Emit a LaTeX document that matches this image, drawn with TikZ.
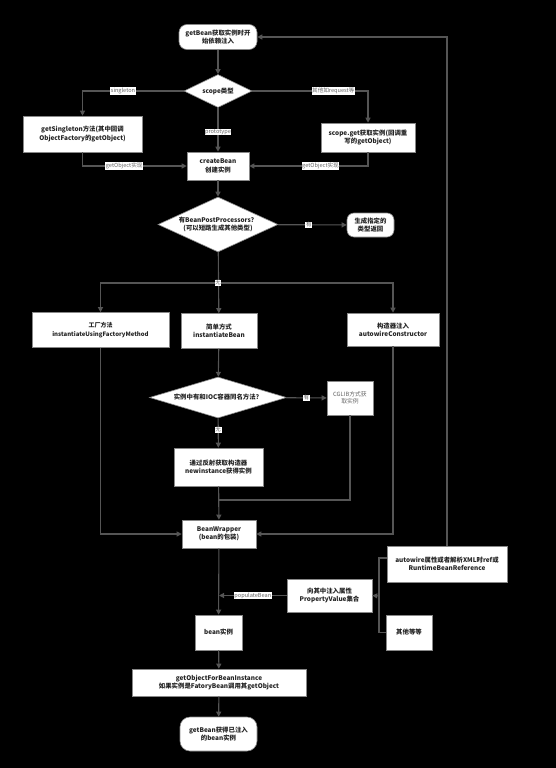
\documentclass[tikz,border=0pt]{standalone}
\usepackage{fontspec}
\setmainfont{Noto Sans CJK SC}
\usetikzlibrary{shapes.geometric,arrows.meta,calc}
\definecolor{ln}{HTML}{555555}
\definecolor{bd}{HTML}{888888}
\definecolor{tx}{HTML}{222222}
\definecolor{lt}{HTML}{666666}
\tikzset{
  box/.style={draw=bd, line width=0.6pt, fill=white, rectangle, align=center, inner sep=1pt,
    text=tx, font=\fontsize{6.4}{8.2}\selectfont\bfseries},
  rbox/.style={box, rounded corners=8pt},
  dia/.style={box, diamond, inner sep=0pt},
  line/.style={draw=ln, line width=1.1pt},
  arrow/.style={line, -{Triangle[length=5pt,width=5pt]}},
  lab/.style={fill=white, text=lt, inner sep=0.6pt, font=\fontsize{5.6}{6.5}\selectfont}
}
\begin{document}
\begin{tikzpicture}[x=1pt,y=-1pt]
\fill[black] (0,0) rectangle (556,768);
\useasboundingbox (0,0) rectangle (556,768);

\node[rbox, minimum width=78pt, minimum height=25pt] (start) at (218,37) {getBean获取实例时开\\始依赖注入};
\node[dia, aspect=2.06, minimum width=68pt, minimum height=33pt] (scope) at (218,91) {scope类型};
\node[box, minimum width=119pt, minimum height=36pt] (single) at (82.5,134) {getSingleton方法(其中回调\\ObjectFactory的getObject)};
\node[box, minimum width=94pt, minimum height=29pt] (sget) at (368,137.5) {scope.get获取实例(回调重\\写的getObject)};
\node[box, minimum width=62pt, minimum height=28pt] (create) at (218,166) {createBean\\创建实例};
\node[dia, aspect=2.2, minimum width=120pt, minimum height=55pt] (bpp) at (218,224.5) {有BeanPostProcessors？\\(可以短路生成其他类型)};
\node[rbox, minimum width=47pt, minimum height=24pt, rounded corners=7pt] (gen) at (370.5,225) {生成指定的\\类型返回};
\node[box, minimum width=137pt, minimum height=35pt, font=\fontsize{6}{8.2}\selectfont\bfseries] (fm) at (100.5,330) {工厂方法\\instantiateUsingFactoryMethod};
\node[box, minimum width=76pt, minimum height=35pt] (simple) at (219,331) {简单方式\\instantiateBean};
\node[box, minimum width=92pt, minimum height=33pt] (ctor) at (393,329.5) {构造器注入\\autowireConstructor};
\node[dia, aspect=3.34, minimum width=137pt, minimum height=41pt] (ioc) at (218,397.5) {实例中有和IOC容器同名方法？};
\node[box, minimum width=46pt, minimum height=34pt, font=\fontsize{5.8}{7.5}\selectfont, text=lt] (cglib) at (350,398) {CGLIB方式获\\取实例};
\node[box, minimum width=89pt, minimum height=38pt] (refl) at (218.5,467) {通过反射获取构造器\\newinstance获得实例};
\node[box, minimum width=74pt, minimum height=28pt] (bw) at (219,534) {BeanWrapper\\(bean的包装)};
\node[box, minimum width=120pt, minimum height=36pt] (auto) at (447,564) {autowire属性或者解析XML时ref或\\RuntimeBeanReference};
\node[box, minimum width=85pt, minimum height=33pt] (prop) at (329.5,595.5) {向其中注入属性\\PropertyValue集合};
\node[box, minimum width=46pt, minimum height=35pt] (other) at (409,632.5) {其他等等};
\node[box, minimum width=47pt, minimum height=35pt] (bean) at (218.5,632.5) {bean实例};
\node[box, minimum width=174pt, minimum height=27pt] (gobi) at (219,682.5) {getObjectForBeanInstance\\如果实例是FatoryBean调用其getObject};
\node[rbox, minimum width=77pt, minimum height=34pt, rounded corners=10pt] (end) at (218.5,734) {getBean获得已注入\\的bean实例};

\coordinate (j) at (218,283);
\coordinate (jc) at (218,500);
\coordinate (bt) at (379,558);
\coordinate (bm) at (379,596);
\coordinate (bb) at (379,632.5);
\coordinate (at) at (387,558);

\draw[arrow] (start) -- (scope);
\draw[arrow] (scope.west) -| node[lab, pos=0.3] {singleton} (single.north);
\draw[arrow] (scope.east) -| node[lab, pos=0.35] {其他如request等} (sget.north);
\draw[arrow] (scope) -- node[lab, pos=0.55] {prototype} (create);
\draw[arrow] (single.south) |- node[lab, pos=0.7] {getObject实现} (create.west);
\draw[arrow] (sget.south) |- node[lab, pos=0.7] {getObject实现} (create.east);
\draw[arrow] (create) -- (bpp);
\draw[arrow] (bpp) -- node[lab, pos=0.45] {有} (gen);
\draw[arrow] (bpp) -- (simple);
\draw[arrow] (j) -| (fm.north);
\draw[arrow] (j) -| (ctor.north);
\node[lab] at (j) {无};
\draw[arrow] (simple) -- (ioc);
\draw[arrow] (ioc) -- node[lab, pos=0.5] {有} (cglib);
\draw[arrow] (ioc) -- node[lab, pos=0.4] {无} (refl);
\draw[line] (cglib.south) |- (jc);
\draw[arrow] (refl) -- (bw);
\draw[arrow] (fm.south) |- (bw.west);
\draw[arrow] (ctor.south) |- (bw.east);
\draw[arrow] (auto.north) |- (start.east);
\draw[line] (at) -- (bt) -- (bb) -- (other.west);
\draw[arrow] (bm) -- (prop.east);
\draw[arrow] (prop.west) -- node[lab, pos=0.5] {populateBean} (prop.west -| bw.south);
\draw[arrow] (bw) -- (bean);
\draw[arrow] (bean) -- (gobi);
\draw[arrow] (gobi) -- (end);
\end{tikzpicture}
\end{document}
